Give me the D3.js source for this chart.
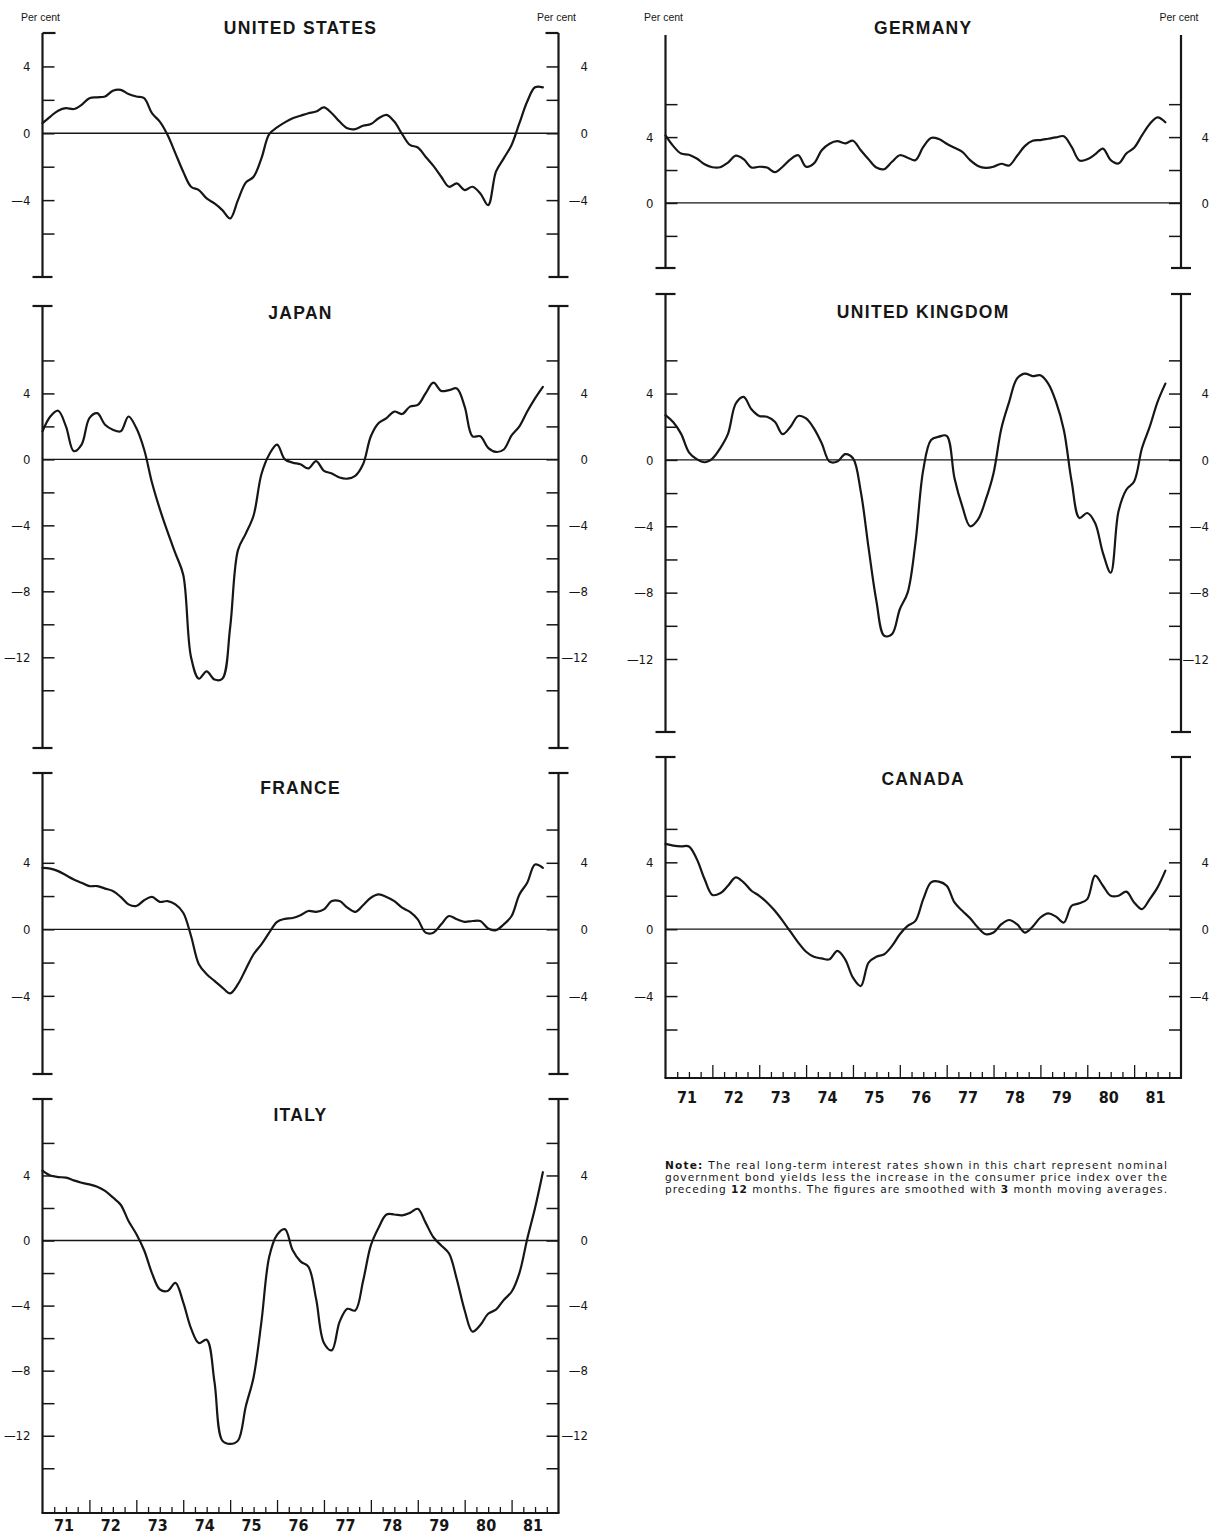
<!DOCTYPE html>
<html>
<head>
<meta charset="utf-8">
<script src="https://cdn.jsdelivr.net/npm/d3@7"></script>
<style>
  body { margin: 0; background: #fff; }
  svg { display: block; }
</style>
</head>
<body>
<svg id="chart" width="1210" height="1536"></svg>
<script>
// Real long-term interest rates (per cent), one value every two months from January 1971.
const START_YEAR = 1971;
const STEP_MONTHS = 2;
const END_YEAR = 1982;
const yearLabels = ["71", "72", "73", "74", "75", "76", "77", "78", "79", "80", "81"];

const unitedStates = [
  0.6, 1.0, 1.35, 1.5, 1.45, 1.7, 2.1, 2.15, 2.2, 2.55, 2.6, 2.35,
  2.2, 2.1, 1.2, 0.7, -0.1, -1.2, -2.3, -3.2, -3.4, -3.9, -4.2, -4.6,
  -5.1, -4.0, -2.95, -2.6, -1.5, -0.05, 0.35, 0.65, 0.9, 1.05, 1.2, 1.3,
  1.55, 1.2, 0.7, 0.3, 0.25, 0.45, 0.55, 0.9, 1.1, 0.7, -0.05, -0.7,
  -0.85, -1.4, -1.95, -2.6, -3.2, -3.0, -3.4, -3.2, -3.6, -4.3, -2.3, -1.5,
  -0.7, 0.6, 1.9, 2.75, 2.75
];
const japan = [
  1.7, 2.6, 2.95, 2.0, 0.5, 0.9, 2.5, 2.8, 2.1, 1.8, 1.7, 2.6,
  1.9, 0.6, -1.4, -3.0, -4.4, -5.7, -7.0, -12.0, -13.3, -12.85, -13.35, -13.3,
  -10.2, -5.5, -4.5, -3.4, -0.9, 0.3, 0.9, 0.0, -0.2, -0.3, -0.55, -0.1,
  -0.7, -0.85, -1.1, -1.17, -1.0, -0.3, 1.4, 2.2, 2.5, 2.9, 2.75, 3.2,
  3.3, 4.0, 4.65, 4.15, 4.2, 4.3, 3.2, 1.4, 1.4, 0.7, 0.45, 0.6,
  1.45, 2.0, 2.9, 3.7, 4.4
];
const france = [
  3.7, 3.65, 3.5, 3.25, 3.0, 2.8, 2.6, 2.6, 2.45, 2.3, 1.95, 1.5,
  1.4, 1.75, 1.95, 1.65, 1.7, 1.5, 1.0, -0.4, -2.1, -2.7, -3.1, -3.5,
  -3.85, -3.3, -2.4, -1.5, -0.9, -0.2, 0.45, 0.63, 0.68, 0.85, 1.1, 1.05,
  1.2, 1.7, 1.7, 1.3, 1.05, 1.45, 1.9, 2.1, 1.95, 1.7, 1.3, 1.05,
  0.6, -0.2, -0.2, 0.3, 0.8, 0.6, 0.45, 0.5, 0.5, 0.05, -0.05, 0.3,
  0.8, 2.1, 2.8, 3.9, 3.7
];
const italy = [
  4.3, 4.0, 3.9, 3.87, 3.7, 3.55, 3.45, 3.3, 3.05, 2.65, 2.2, 1.2,
  0.4, -0.6, -2.0, -3.0, -3.1, -2.6, -3.8, -5.4, -6.3, -6.1, -8.7, -12.3,
  -12.5, -12.3, -10.2, -8.4, -5.0, -1.0, 0.35, 0.7, -0.6, -1.28, -1.6, -3.6,
  -6.3, -6.75, -5.0, -4.2, -4.3, -2.5, -0.3, 0.8, 1.6, 1.6, 1.55, 1.7,
  1.95, 1.1, 0.2, -0.3, -0.8, -2.4, -4.3, -5.6, -5.2, -4.5, -4.25, -3.65,
  -3.15, -2.0, 0.1, 2.0, 4.2
];
const germany = [
  4.1, 3.45, 3.0, 2.93, 2.7, 2.35, 2.17, 2.17, 2.45, 2.87, 2.66, 2.15,
  2.2, 2.15, 1.87, 2.2, 2.65, 2.9, 2.2, 2.4, 3.2, 3.6, 3.75, 3.62,
  3.78, 3.2, 2.65, 2.15, 2.05, 2.5, 2.9, 2.75, 2.6, 3.4, 3.95, 3.88,
  3.6, 3.35, 3.1, 2.6, 2.25, 2.13, 2.2, 2.38, 2.28, 2.85, 3.45, 3.78,
  3.82, 3.9, 3.98, 4.05, 3.4, 2.58, 2.65, 2.95, 3.3, 2.6, 2.4, 3.0,
  3.35, 4.1, 4.8, 5.2, 4.9
];
const unitedKingdom = [
  2.7, 2.27, 1.57, 0.46, 0.05, -0.14, 0.08, 0.7, 1.57, 3.4, 3.8, 3.05,
  2.65, 2.6, 2.3, 1.55, 2.0, 2.65, 2.5, 1.9, 1.0, -0.1, -0.1, 0.35,
  0.1, -1.9, -5.3, -8.5, -10.6, -10.5, -9.0, -8.0, -5.0, -0.6, 1.2, 1.4,
  1.45, -1.1, -2.8, -4.0, -3.6, -2.4, -0.8, 1.9, 3.5, 4.9, 5.2, 5.05,
  5.1, 4.6, 3.5, 1.8, -1.3, -3.5, -3.2, -3.8, -5.6, -6.8, -3.1, -1.8,
  -1.3, 0.7, 2.0, 3.5, 4.6
];
const canada = [
  5.1, 5.0, 4.95, 4.95, 4.2, 3.0, 2.05, 2.15, 2.6, 3.1, 2.8, 2.3,
  2.0, 1.6, 1.1, 0.5, -0.15, -0.8, -1.35, -1.65, -1.75, -1.8, -1.3, -1.8,
  -2.9, -3.4, -2.0, -1.65, -1.5, -1.0, -0.3, 0.2, 0.5, 1.8, 2.8, 2.85,
  2.6, 1.6, 1.1, 0.65, 0.1, -0.3, -0.2, 0.3, 0.55, 0.3, -0.2, 0.15,
  0.7, 0.95, 0.75, 0.4, 1.4, 1.55, 1.8, 3.2, 2.6, 2.0, 2.0, 2.25,
  1.6, 1.2, 1.8, 2.5, 3.5
];

// Page geometry: two columns of stacked panels sharing a 1971-1982 time axis.
const columns = {
  left:  { x0: 42.5, x1: 558.5, labelRight: 588 },
  right: { x0: 665.5, x1: 1181, labelRight: 1209 }
};

const panels = [
  { title: "UNITED STATES", values: unitedStates, col: "left", topPx: 33, bottomPx: 277, hi: 6.0, lo: -8.6,
    ticks: [4, 2, 0, -2, -4, -6], titleY: 34, capTop: "in", capBottom: "both", perCent: true, yearLabelY: 0 },
  { title: "JAPAN", values: japan, col: "left", topPx: 306, bottomPx: 748, hi: 9.3, lo: -17.5,
    ticks: [6, 4, 2, 0, -2, -4, -6, -8, -10, -12, -14], titleY: 319, capTop: "both", capBottom: "both", perCent: false, yearLabelY: 0 },
  { title: "FRANCE", values: france, col: "left", topPx: 773, bottomPx: 1074, hi: 9.4, lo: -8.7,
    ticks: [6, 4, 2, 0, -2, -4, -6], titleY: 794, capTop: "both", capBottom: "both", perCent: false, yearLabelY: 0 },
  { title: "ITALY", values: italy, col: "left", topPx: 1099, bottomPx: 1513, hi: 8.7, lo: -16.75,
    ticks: [6, 4, 2, 0, -2, -4, -6, -8, -10, -12, -14], titleY: 1121, capTop: "both", capBottom: "none", perCent: false, yearLabelY: 1531 },
  { title: "GERMANY", values: germany, col: "right", topPx: 35, bottomPx: 268, hi: 10.2, lo: -3.95,
    ticks: [6, 4, 2, 0, -2], titleY: 34, capTop: "none", capBottom: "both", perCent: true, yearLabelY: 0 },
  { title: "UNITED KINGDOM", values: unitedKingdom, col: "right", topPx: 294, bottomPx: 732, hi: 10.0, lo: -16.4,
    ticks: [6, 4, 2, 0, -2, -4, -6, -8, -10, -12], titleY: 318, capTop: "both", capBottom: "both", perCent: false, yearLabelY: 0 },
  { title: "CANADA", values: canada, col: "right", topPx: 757, bottomPx: 1078, hi: 10.3, lo: -8.9,
    ticks: [6, 4, 2, 0, -2, -4, -6], titleY: 785, capTop: "both", capBottom: "none", perCent: false, yearLabelY: 1103 }
];

const INK = "#161616";
const NUM_FONT = "'Liberation Sans Narrow', 'DejaVu Sans Condensed', 'Roboto Condensed', 'Liberation Sans', sans-serif";
const TEXT_FONT = "'Liberation Sans', Arial, Helvetica, sans-serif";
const NOTE_FONT = "'DejaVu Sans', 'Liberation Sans', sans-serif";

const svg = d3.select("#chart");
svg.append("rect").attr("width", 1210).attr("height", 1536).attr("fill", "#fff");

const periods = unitedStates.map((_, i) => START_YEAR + i * STEP_MONTHS / 12);
const quarters = d3.range(START_YEAR * 4 + 1, END_YEAR * 4).map(q => q / 4);

const fmtTick = v => (v % 4 === 0 ? (v < 0 ? "\u2014" + Math.abs(v) : String(v)) : "");

panels.forEach(p => {
  const c = columns[p.col];
  const x = d3.scaleLinear().domain([START_YEAR, END_YEAR]).range([c.x0, c.x1]);
  const y = d3.scaleLinear().domain([p.lo, p.hi]).range([p.bottomPx, p.topPx]);
  const g = svg.append("g").attr("class", "panel");

  // Left value axis: ticks point into the plot, labels outside.
  const leftAxis = d3.axisLeft(y).tickValues(p.ticks).tickFormat(fmtTick)
    .tickSizeInner(-12).tickSizeOuter(0).tickPadding(12);
  g.append("g").attr("transform", `translate(${c.x0},0)`).call(leftAxis)
    .call(a => a.select(".domain").remove())
    .call(a => a.selectAll(".tick line").attr("stroke", INK).attr("stroke-width", 1.5))
    .call(a => a.selectAll(".tick text").attr("fill", INK).attr("font-family", NUM_FONT).attr("font-size", 13));

  // Right value axis: ticks point inward, labels right-aligned outside.
  const rightAxis = d3.axisRight(y).tickValues(p.ticks).tickFormat(fmtTick)
    .tickSizeInner(-12).tickSizeOuter(0).tickPadding(12);
  g.append("g").attr("transform", `translate(${c.x1},0)`).call(rightAxis)
    .call(a => a.select(".domain").remove())
    .call(a => a.selectAll(".tick line").attr("stroke", INK).attr("stroke-width", 1.5))
    .call(a => a.selectAll(".tick text").attr("fill", INK).attr("font-family", NUM_FONT).attr("font-size", 13)
      .attr("text-anchor", "end").attr("x", c.labelRight - c.x1));

  // Vertical axis rules with end caps.
  [c.x0, c.x1].forEach((ax, side) => {
    g.append("line").attr("x1", ax).attr("x2", ax).attr("y1", p.topPx).attr("y2", p.bottomPx)
      .attr("stroke", INK).attr("stroke-width", 2.2);
    const inward = side === 0 ? 1 : -1;
    const cap = (yy, mode) => {
      if (mode === "none") return;
      const a = mode === "in" ? ax : ax - 10;
      const b = mode === "in" ? ax + inward * 13 : ax + 10;
      g.append("line").attr("x1", a).attr("x2", b).attr("y1", yy).attr("y2", yy)
        .attr("stroke", INK).attr("stroke-width", 2.2);
    };
    cap(p.topPx, p.capTop);
    cap(p.bottomPx, p.capBottom);
  });

  // Zero reference line.
  g.append("line").attr("x1", c.x0).attr("x2", c.x1).attr("y1", y(0)).attr("y2", y(0))
    .attr("stroke", INK).attr("stroke-width", 1.3);

  // Time axis along the bottom of the last panel in each column.
  if (p.yearLabelY) {
    const xAxis = d3.axisBottom(x).tickValues(quarters).tickFormat("").tickSizeInner(-6).tickSizeOuter(0);
    g.append("g").attr("transform", `translate(0,${p.bottomPx})`).call(xAxis)
      .call(a => a.select(".domain").remove())
      .call(a => a.selectAll(".tick line").attr("stroke", INK).attr("stroke-width", 1.3)
        .attr("y2", d => (Number.isInteger(d) ? -13 : -6)));
    g.append("line").attr("x1", c.x0 - 1).attr("x2", c.x1 + 1).attr("y1", p.bottomPx).attr("y2", p.bottomPx)
      .attr("stroke", INK).attr("stroke-width", 2.2);
    g.selectAll("text.year").data(yearLabels).join("text").attr("class", "year")
      .attr("x", (d, i) => x(START_YEAR + i + 0.5) - 2)
      .attr("y", p.yearLabelY)
      .attr("text-anchor", "middle")
      .attr("font-family", NUM_FONT).attr("font-weight", "bold").attr("font-size", 16)
      .attr("fill", INK).text(d => d);
  }

  // Country title.
  g.append("text").attr("x", (c.x0 + c.x1) / 2).attr("y", p.titleY)
    .attr("text-anchor", "middle").attr("font-family", TEXT_FONT).attr("font-weight", "bold")
    .attr("font-size", 17.5).attr("letter-spacing", 1.3).attr("fill", INK).text(p.title);

  if (p.perCent) {
    [c.x0, c.x1].forEach(ax => {
      g.append("text").attr("x", ax - 2).attr("y", 21).attr("text-anchor", "middle")
        .attr("font-family", TEXT_FONT).attr("font-size", 10.5).attr("fill", INK).text("Per cent");
    });
  }

  // The rate series.
  const line = d3.line().x((d, i) => x(periods[i])).y(d => y(d)).curve(d3.curveCatmullRom.alpha(0.5));
  g.append("path").datum(p.values).attr("d", line).attr("fill", "none")
    .attr("stroke", INK).attr("stroke-width", 2.2).attr("stroke-linejoin", "round").attr("stroke-linecap", "round");
});

// Footnote, set justified across the right column.
const noteLines = [
  [["Note: ", true], ["The real long-term interest rates shown in this chart represent nominal", false]],
  [["government bond yields less the increase in the consumer price index over the", false]],
  [["preceding ", false], ["12", true], [" months. The figures are smoothed with ", false], ["3", true], [" month  moving averages.", false]]
];
const note = svg.append("g").attr("font-family", NOTE_FONT).attr("font-size", 10.6).attr("fill", INK);
noteLines.forEach((parts, i) => {
  const t = note.append("text").attr("x", 665).attr("y", 1169 + i * 12)
    .attr("textLength", 502).attr("lengthAdjust", "spacing");
  parts.forEach(([s, bold]) => t.append("tspan").attr("font-weight", bold ? "bold" : "normal").text(s));
});
</script>
</body>
</html>
